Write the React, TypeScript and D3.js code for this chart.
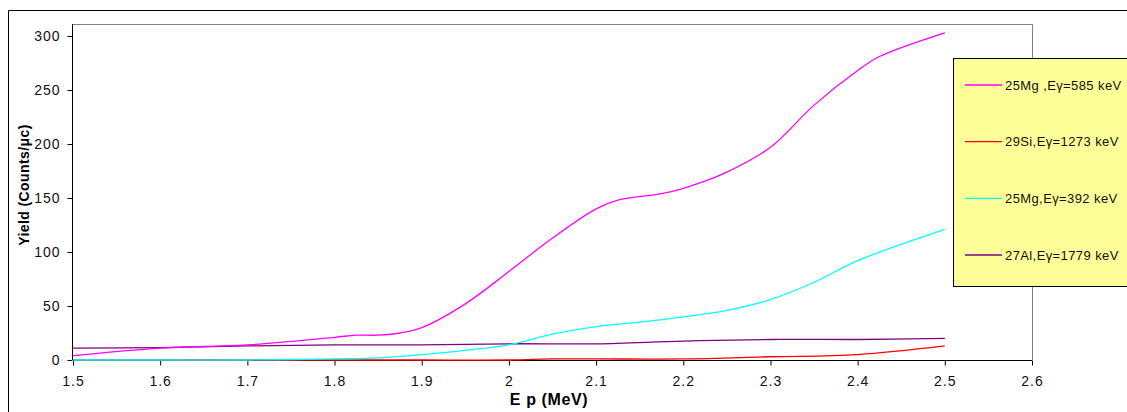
import React, { useRef, useEffect } from 'react';
import * as d3 from 'd3';

// energies (MeV) for each series
const mg585X = [1.5, 1.6, 1.7, 1.8, 1.825, 1.85, 1.875, 1.9, 1.95, 2.0, 2.05, 2.1, 2.125, 2.175, 2.2, 2.25, 2.3, 2.35, 2.4, 2.425, 2.5];
const mg585Y = [4, 11, 14, 21, 23, 23, 25, 30, 52, 82, 113, 140, 148, 154, 159, 174, 197, 236, 268, 281, 303];

const si1273X = [1.5, 1.6, 1.7, 1.8, 1.9, 2.0, 2.05, 2.1, 2.2, 2.3, 2.4, 2.5];
const si1273Y = [0, 0, 0, 0, 0, 0, 1, 1, 1, 3, 5, 13];

const mg392X = [1.5, 1.6, 1.7, 1.8, 1.85, 1.9, 1.95, 2.0, 2.05, 2.1, 2.15, 2.2, 2.25, 2.3, 2.35, 2.4, 2.5];
const mg392Y = [0, 0, 0, 1, 2, 5, 9, 14, 24, 31, 35, 40, 46, 56, 72, 92, 121];

const al1779X = [1.5, 1.6, 1.7, 1.8, 1.9, 2.0, 2.1, 2.2, 2.3, 2.4, 2.5];
const al1779Y = [11, 11.5, 13, 14, 14, 15, 15, 17.5, 19, 19, 20];

const seriesNames = ['25Mg ,Eγ=585 keV', '29Si,Eγ=1273 keV', '25Mg,Eγ=392 keV', '27Al,Eγ=1779 keV'];
const seriesColors = ['#ff00ff', '#ff0000', '#00ffff', '#800080'];

const xTicks = [1.5, 1.6, 1.7, 1.8, 1.9, 2.0, 2.1, 2.2, 2.3, 2.4, 2.5, 2.6];
const yTicks = [0, 50, 100, 150, 200, 250, 300];

const W = 1127;
const H = 412;

const App = () => {
  const svgRef = useRef<SVGSVGElement>(null);

  useEffect(() => {
    const svg = d3.select(svgRef.current);
    svg.selectAll('*').remove();

    const left = 73, right = 1032, top = 24, bottom = 360;
    const x = d3.scaleLinear().domain([1.5, 2.6]).range([left, right]);
    const y = d3.scaleLinear().domain([0, 300]).range([bottom, 36]);

    svg.append('rect').attr('width', W).attr('height', H).attr('fill', 'white');

    // outer chart border
    svg.append('path')
      .attr('d', `M8.5,${H} L8.5,10.5 L${W},10.5`)
      .attr('fill', 'none').attr('stroke', 'black').attr('stroke-width', 1);

    // plot frame (top/right grey)
    svg.append('path')
      .attr('d', `M${left},${top + 0.5} L${right + 0.5},${top + 0.5} L${right + 0.5},${bottom}`)
      .attr('fill', 'none').attr('stroke', '#808080').attr('stroke-width', 1);

    const font = 'Liberation Sans, Arial, Helvetica, sans-serif';

    const yAxis = svg.append('g')
      .attr('transform', `translate(${left - 0.5},0)`)
      .call(d3.axisLeft(y).tickValues(yTicks).tickSize(5).tickPadding(7).tickFormat(d3.format('d')));
    yAxis.select('.domain').attr('d', `M0,${top} V${bottom}`).attr('stroke', 'black');
    yAxis.selectAll('text').attr('font-size', 14).attr('letter-spacing', 1).attr('font-family', font).attr('fill', '#111');

    const xAxis = svg.append('g')
      .attr('transform', `translate(0,${bottom + 0.5})`)
      .call(d3.axisBottom(x).tickValues(xTicks).tickSize(5).tickPadding(11).tickFormat(d => String(+d)));
    xAxis.select('.domain').attr('d', `M${left},0 H${right}`).attr('stroke', 'black');
    xAxis.selectAll('text').attr('font-size', 14).attr('letter-spacing', 1).attr('font-family', font).attr('fill', '#111');

    // axis titles
    svg.append('text')
      .attr('x', 549).attr('y', 405)
      .attr('text-anchor', 'middle')
      .attr('font-family', font).attr('font-weight', 'bold').attr('font-size', 16)
      .attr('letter-spacing', 0.6)
      .text('E p (MeV)');
    svg.append('text')
      .attr('transform', 'translate(29,185) rotate(-90)')
      .attr('text-anchor', 'middle')
      .attr('font-family', font).attr('font-weight', 'bold').attr('font-size', 14)
      .attr('letter-spacing', 0.4)
      .text('Yield (Counts/μc)');

    const seriesData = [
      mg585X.map((v, i) => [v, mg585Y[i]]),
      si1273X.map((v, i) => [v, si1273Y[i]]),
      mg392X.map((v, i) => [v, mg392Y[i]]),
      al1779X.map((v, i) => [v, al1779Y[i]]),
    ];

    const line = d3.line<number[]>()
      .x(d => x(d[0]))
      .y(d => y(d[1]))
      .curve(d3.curveCatmullRom.alpha(0.5));

    const order = [3, 1, 2, 0];
    order.forEach(i => {
      svg.append('path')
        .datum(seriesData[i])
        .attr('d', line)
        .attr('fill', 'none')
        .attr('stroke', seriesColors[i])
        .attr('stroke-width', 1.3);
    });

    // legend
    const lg = svg.append('g');
    lg.append('rect')
      .attr('x', 953.5).attr('y', 58.5).attr('width', 180).attr('height', 228)
      .attr('fill', '#ffff99').attr('stroke', 'black').attr('stroke-width', 1);
    const legendY = d3.scalePoint<number>().domain([0, 1, 2, 3]).range([85, 255]);
    seriesNames.forEach((name, i) => {
      const ly = legendY(i)!;
      lg.append('line')
        .attr('x1', 965).attr('x2', 1002).attr('y1', ly).attr('y2', ly)
        .attr('stroke', seriesColors[i]).attr('stroke-width', 1.3);
      lg.append('text')
        .attr('x', 1005).attr('y', ly + 4.5)
        .attr('font-family', font).attr('font-size', 13).attr('letter-spacing', 0.4).attr('fill', '#111')
        .text(name);
    });
  }, []);

  return (
    <svg ref={svgRef} width={W} height={H}
      style={{ position: 'absolute', left: 0, top: 0, display: 'block' }} />
  );
};

export default App;
